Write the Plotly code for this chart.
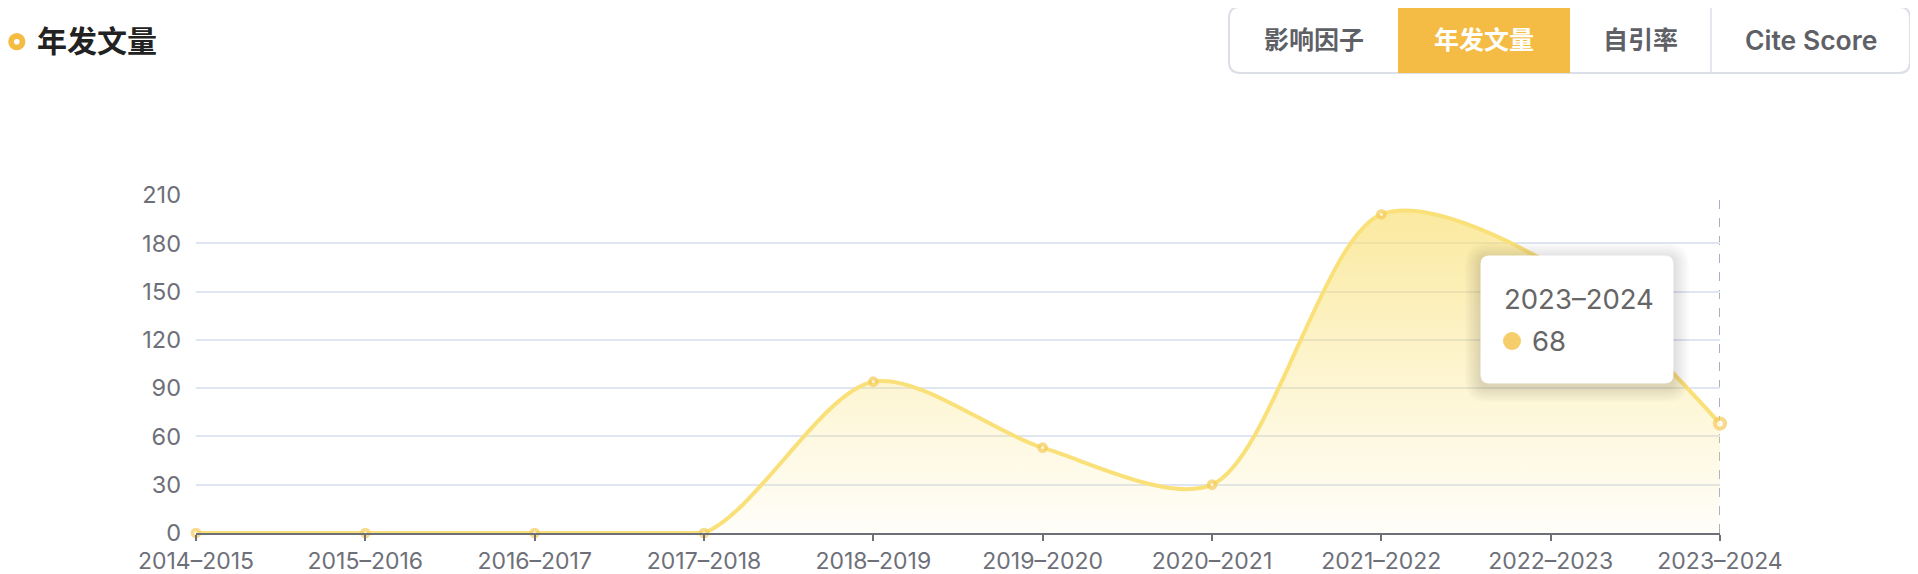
import plotly.graph_objects as go

# ---------------- data ----------------
categories = ["2014–2015", "2015–2016", "2016–2017", "2017–2018", "2018–2019",
              "2019–2020", "2020–2021", "2021–2022", "2022–2023", "2023–2024"]
values = [0, 0, 0, 0, 94, 53, 30, 198, 167, 68]
y_ticks = [0, 30, 60, 90, 120, 150, 180, 210]
buttons = ["影响因子", "年发文量", "自引率", "Cite Score"]
active_button = "年发文量"
title_text = "年发文量"
tooltip_index = 9

# ---------------- layout geometry (page pixels) ----------------
PAGE_W, PAGE_H = 1918, 574
BODY = 8                      # default body margin of the html page
W, H = PAGE_W - BODY, PAGE_H - BODY
L, R, T, B = 196, 1720, 195, 533   # plot area in page pixels
FONT = "Inter, 'Noto Sans CJK SC', sans-serif"
AXIS_C = "#6E7079"
LINE_C = "rgb(250,224,120)"
MARK_C = "rgb(246,203,92)"


def px(x):
    return (x - L) / (R - L)


def py(y):
    return (B - y) / (B - T)


def rrect(x0, y0, x1, y1, r):
    pts = [
        ("M", [(x0 + r, y0)]), ("L", [(x1 - r, y0)]), ("Q", [(x1, y0), (x1, y0 + r)]),
        ("L", [(x1, y1 - r)]), ("Q", [(x1, y1), (x1 - r, y1)]), ("L", [(x0 + r, y1)]),
        ("Q", [(x0, y1), (x0, y1 - r)]), ("L", [(x0, y0 + r)]), ("Q", [(x0, y0), (x0 + r, y0)]),
    ]
    s = ""
    for cmd, ps in pts:
        s += cmd + " " + " ".join(f"{px(a):.5f},{py(b):.5f}" for a, b in ps) + " "
    return s + "Z"


xs = list(range(len(categories)))
n = len(values)
msize = [7] * n
mline = [3.7] * n
msize[tooltip_index] = 10
mline[tooltip_index] = 4.3

# leading run of zero values (drawn as a flat line on top of the spline)
zero_end = 0
while zero_end + 1 < n and values[zero_end + 1] == 0:
    zero_end += 1

fig = go.Figure()
fig.add_trace(go.Scatter(
    x=xs, y=values, mode="lines",
    line=dict(shape="spline", smoothing=0.85, color=LINE_C, width=4),
    fill="tozeroy",
    fillgradient=dict(type="vertical",
                      colorscale=[[0, "rgba(250,226,120,0.03)"], [1, "rgba(248,220,100,0.62)"]]),
    hoverinfo="skip", showlegend=False,
))
fig.add_trace(go.Scatter(
    x=xs[:zero_end + 1], y=values[:zero_end + 1], mode="lines",
    line=dict(color=LINE_C, width=4), cliponaxis=False,
    hoverinfo="skip", showlegend=False,
))
fig.add_trace(go.Scatter(
    x=xs, y=values, mode="markers",
    marker=dict(symbol="circle", size=msize, color="white",
                line=dict(color=MARK_C, width=mline)),
    cliponaxis=False, hoverinfo="skip", showlegend=False,
))

shapes = []
annotations = []

# axis pointer (dashed)
shapes.append(dict(type="line", xref="x", yref="paper", x0=tooltip_index, x1=tooltip_index,
                   y0=0, y1=1, line=dict(color="#A9AEC0", width=2, dash="dash"), layer="below"))

# title icon
cx, cy = 16.8, 41.7
ro, ri = 8.6, 2.8
shapes.append(dict(type="circle", xref="paper", yref="paper",
                   x0=px(cx - ro), x1=px(cx + ro), y0=py(cy + ro), y1=py(cy - ro),
                   fillcolor="#F5BC42", line=dict(width=0)))
shapes.append(dict(type="circle", xref="paper", yref="paper",
                   x0=px(cx - ri), x1=px(cx + ri), y0=py(cy + ri), y1=py(cy - ri),
                   fillcolor="white", line=dict(width=0)))
annotations.append(dict(text=f"<b>{title_text}</b>", xref="paper", yref="paper",
                        x=px(35), y=py(41), xanchor="left", yanchor="middle", showarrow=False,
                        font=dict(family=FONT, size=30, color="#222222")))

# buttons
bx = [1229, 1398, 1570, 1711, 1910]
by0, by1 = 7, 73
shapes.append(dict(type="path", xref="paper", yref="paper", path=rrect(bx[0], by0, bx[-1], by1, 11),
                   fillcolor="white", line=dict(color="#DCDFE6", width=2)))
shapes.append(dict(type="line", xref="paper", yref="paper", x0=px(bx[3]), x1=px(bx[3]),
                   y0=py(by0 + 1), y1=py(by1 - 1), line=dict(color="#E4E7ED", width=2)))
for i, label in enumerate(buttons):
    is_active = label == active_button
    if is_active:
        shapes.append(dict(type="rect", xref="paper", yref="paper",
                           x0=px(bx[i]), x1=px(bx[i + 1]), y0=py(by1), y1=py(by0),
                           fillcolor="#F4BC44", line=dict(width=0)))
    is_latin = label.isascii()
    annotations.append(dict(text=label, xref="paper", yref="paper",
                            x=px((bx[i] + bx[i + 1]) / 2), y=py(40), xanchor="center", yanchor="middle",
                            showarrow=False,
                            font=dict(family=FONT, size=26.5 if is_latin else 25, weight=600 if is_latin else 700,
                                      color="white" if is_active else "#5E6066")))

# tooltip
tx0, ty0, tx1, ty1 = 1481, 256, 1673, 383
for k in range(1, 9):
    shapes.append(dict(type="path", xref="paper", yref="paper",
                       path=rrect(tx0 - 2 * k, ty0 - 2 * k + 3, tx1 + 2 * k, ty1 + 2 * k + 3, 7 + 2 * k),
                       fillcolor="rgba(0,0,0,0.014)", line=dict(width=0), layer="above"))
shapes.append(dict(type="path", xref="paper", yref="paper", path=rrect(tx0, ty0, tx1, ty1, 8),
                   fillcolor="white", line=dict(color="white", width=1), layer="above"))
dcx, dcy, dr = 1512, 341, 9
shapes.append(dict(type="circle", xref="paper", yref="paper",
                   x0=px(dcx - dr), x1=px(dcx + dr), y0=py(dcy + dr), y1=py(dcy - dr),
                   fillcolor="#F6CD6B", line=dict(width=0), layer="above"))
annotations.append(dict(text=categories[tooltip_index], xref="paper", yref="paper",
                        x=px(1502), y=py(299), xanchor="left", yanchor="middle", showarrow=False,
                        font=dict(family=FONT, size=27.5, color="#666666")))
annotations.append(dict(text=str(values[tooltip_index]), xref="paper", yref="paper",
                        x=px(1530), y=py(341), xanchor="left", yanchor="middle", showarrow=False,
                        font=dict(family=FONT, size=27.5, color="#666666")))

fig.update_layout(
    width=W, height=H,
    margin=dict(l=L - BODY, r=PAGE_W - R, t=T - BODY, b=PAGE_H - B, pad=0),
    paper_bgcolor="white", plot_bgcolor="white",
    font=dict(family=FONT, color=AXIS_C),
    shapes=shapes, annotations=annotations,
    hovermode=False, showlegend=False,
    xaxis=dict(range=[0, len(categories) - 1], tickmode="array", tickvals=xs, ticktext=categories,
               showgrid=False, zeroline=False, showline=True, linecolor=AXIS_C, linewidth=2,
               ticks="outside", ticklen=6, tickwidth=2, tickcolor=AXIS_C,
               tickfont=dict(family=FONT, size=23, color=AXIS_C), automargin=False,
               ticklabelstandoff=0, fixedrange=True),
    yaxis=dict(range=[0, 210], tickmode="array", tickvals=y_ticks,
               showgrid=True, gridcolor="#E0E6F1", gridwidth=2, zeroline=False, showline=False,
               ticks="", tickfont=dict(family=FONT, size=23.5, color=AXIS_C), automargin=False,
               ticklabelstandoff=14, fixedrange=True),
)

fig.write_html("out.html")
